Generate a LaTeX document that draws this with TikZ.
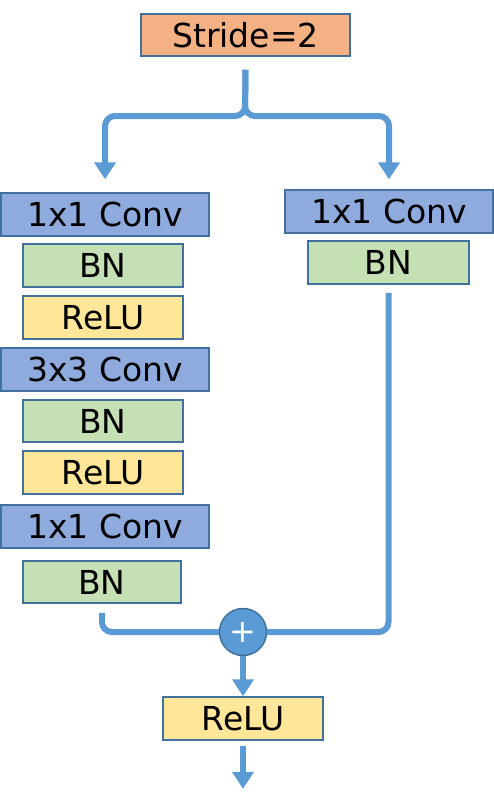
\documentclass[tikz,border=0pt]{standalone}
\usepackage{fontspec}
\setmainfont{DejaVu Sans}
\usetikzlibrary{arrows.meta}
\definecolor{bordc}{HTML}{41719C}
\definecolor{linec}{HTML}{5B9BD5}
\definecolor{convc}{HTML}{8FAADC}
\definecolor{bnc}{HTML}{C5E0B4}
\definecolor{reluc}{HTML}{FFE699}
\definecolor{stridec}{HTML}{F4B183}
\begin{document}
\begin{tikzpicture}[x=1pt,y=-1pt,
  box/.style={draw=bordc, line width=1.5pt, inner sep=0pt, font=\fontsize{33}{33}\selectfont},
  convbox/.style={box, minimum width=208pt, minimum height=43pt, fill=convc},
  bnbox/.style={box, minimum width=160pt, minimum height=43pt, fill=bnc},
  relubox/.style={box, minimum width=160pt, minimum height=43pt, fill=reluc},
  conn/.style={draw=linec, line width=6pt},
  arr/.style={-{Triangle[width=21pt,length=17pt]}}
]
\useasboundingbox (0,0) rectangle (494,808);
\node[box, fill=stridec, minimum width=209pt, minimum height=42pt] (stride) at (245.5,35) {Stride=2};
\node[convbox] (conv1) at (105,214.5) {1x1 Conv};
\node[bnbox] (bn1) at (103,265.5) {BN};
\node[relubox] (relu1) at (103,317.5) {ReLU};
\node[convbox] (conv2) at (105,369.5) {3x3 Conv};
\node[bnbox, minimum height=42pt] (bn2) at (103,421) {BN};
\node[relubox] (relu2) at (103,472.5) {ReLU};
\node[convbox] (conv3) at (105,526.5) {1x1 Conv};
\node[bnbox, minimum width=158pt, minimum height=42pt] (bn3) at (102,582) {BN};
\node[convbox] (rconv) at (389,211.5) {1x1 Conv};
\node[bnbox, minimum width=161pt] (rbn) at (388.5,262.5) {BN};
\node[relubox] (relu3) at (243,718.5) {ReLU};
\coordinate (split) at (245,116);
\coordinate (top) at ([yshift=-13pt]stride.south);
\draw[conn, arr, rounded corners=10pt] (top) -- (split) -- (split -| conv1) -- ([yshift=13pt]conv1.north);
\draw[conn, arr, rounded corners=10pt] (top) -- (split) -- (split -| rconv) -- ([yshift=10pt]rconv.north);
\coordinate (pc) at (243,632);
\draw[conn, rounded corners=10pt] ([yshift=-9pt]bn3.south) -- (bn3.south |- pc) -- (pc);
\draw[conn, rounded corners=10pt] ([yshift=-8pt]rbn.south) -- (rbn.south |- pc) -- (pc);
\node[circle, fill=linec, draw=bordc, line width=1.5pt, minimum size=47pt, inner sep=0pt, text=white, font=\fontsize{32}{32}\selectfont] (plus) at (pc) {+};
\draw[conn, arr] (plus) -- (relu3);
\coordinate (out) at ([yshift=-48pt]relu3.south);
\draw[conn, arr] ([yshift=-5pt]relu3.south) -- (out);
\end{tikzpicture}
\end{document}
